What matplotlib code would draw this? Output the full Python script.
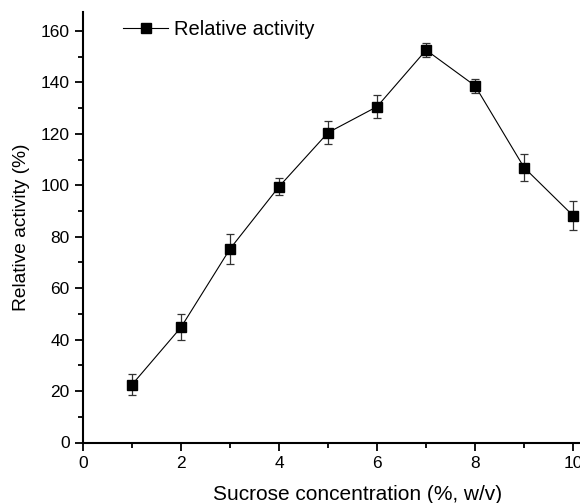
import numpy as np
import matplotlib
matplotlib.use("Agg")
import matplotlib.pyplot as plt
from matplotlib.ticker import MultipleLocator
from matplotlib.lines import Line2D

# data
conc = [1, 2, 3, 4, 5, 6, 7, 8, 9, 10]
activity = [22.5, 44.8, 75.3, 99.5, 120.5, 130.6, 152.6, 138.7, 106.9, 88.2]
err = [4.2, 5.1, 5.8, 3.4, 4.4, 4.6, 2.6, 2.8, 5.3, 5.7]

plt.rcParams['font.family'] = ['Liberation Sans', 'DejaVu Sans']

fig = plt.figure(figsize=(5.8, 5.03), dpi=100)
ax = fig.add_axes([83 / 580, 60.5 / 503, 497 / 580, 430.5 / 503])

ax.errorbar(conc, activity, yerr=err, fmt='s-', color='black', mfc='black',
            mec='black', ms=7, lw=0.8, ecolor='#333333', elinewidth=0.9,
            capsize=3, capthick=0.9)

ax.set_xlim(0, 10.14)
ax.set_ylim(0, 167.4)
ax.xaxis.set_major_locator(MultipleLocator(2))
ax.xaxis.set_minor_locator(MultipleLocator(1))
ax.yaxis.set_major_locator(MultipleLocator(20))
ax.yaxis.set_minor_locator(MultipleLocator(10))

for s in ['top', 'right']:
    ax.spines[s].set_visible(False)
for s in ['left', 'bottom']:
    ax.spines[s].set_linewidth(1.5)

ax.tick_params(which='major', direction='out', length=6, width=1.3, labelsize=12.5)
ax.tick_params(which='minor', direction='out', length=3.5, width=1.3)

ax.set_xlabel('Sucrose concentration (%, w/v)', fontsize=15)
ax.set_ylabel('Relative activity (%)', fontsize=13.8)
# the original plot was cropped on the right, so labels sit off-centre
ax.xaxis.set_label_coords(0.553, -0.098)
ax.yaxis.set_label_coords(-0.107, 0.499)

handle = Line2D([], [], marker='s', color='black', ms=7, lw=0.8)
ax.legend([handle], ['Relative activity'], loc='upper left', frameon=False,
          fontsize=14.5, handlelength=2.2, handletextpad=0.3,
          borderaxespad=0.0, bbox_to_anchor=(0.065, 1.0))

fig.savefig('out.png', dpi=100)
